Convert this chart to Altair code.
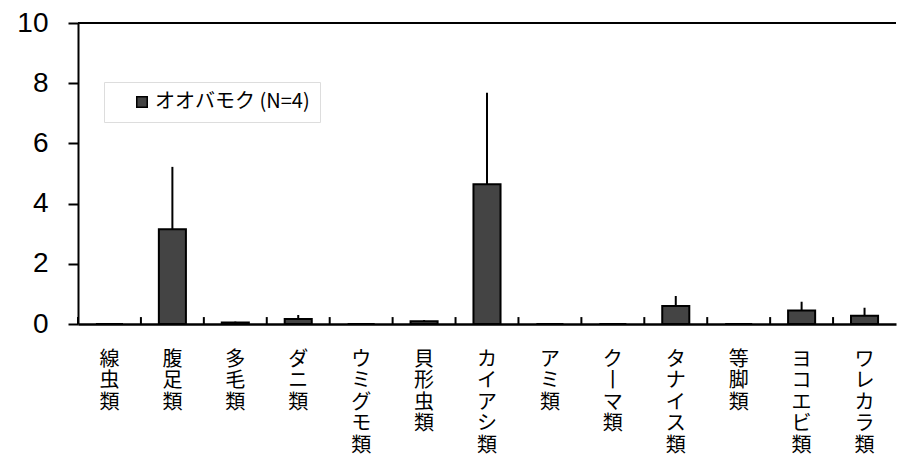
import altair as alt
import pandas as pd

categories = ["線虫類", "腹足類", "多毛類", "ダニ類", "ウミグモ類", "貝形虫類", "カイアシ類",
              "アミ類", "クーマ類", "タナイス類", "等脚類", "ヨコエビ類", "ワレカラ類"]
means = [0.0, 3.15, 0.05, 0.17, 0.0, 0.09, 4.64, 0.0, 0.0, 0.60, 0.0, 0.45, 0.27]
uppers = [0.0, 5.22, 0.08, 0.30, 0.0, 0.13, 7.68, 0.0, 0.0, 0.93, 0.0, 0.74, 0.54]
series_name = "オオバモク (N=4)"
y_ticks = [0, 2, 4, 6, 8, 10]

df = pd.DataFrame({"cat": categories, "mean": means, "upper": uppers, "series": series_name})

x_enc = alt.X("cat:N", sort=categories, title=None,
              scale=alt.Scale(paddingInner=0, paddingOuter=0),
              axis=alt.Axis(labelAngle=0, labelBaseline="top", labelAlign="center",
                            labelExpr="split(replace(datum.label, 'ー', '丨'), '')",
                            labelFont="Noto Sans CJK JP", labelFontSize=20,
                            labelLineHeight=21.5, labelColor="black",
                            ticks=False, tickSize=0, labelPadding=25,
                            domainColor="black", domainWidth=2.5))
y_scale = alt.Scale(domain=[0, 10], nice=False)

bars = alt.Chart(df).mark_bar(width=alt.RelativeBandSize(0.43), stroke="black",
                              strokeWidth=2).encode(
    x=x_enc,
    y=alt.Y("mean:Q", scale=y_scale, title=None,
            axis=alt.Axis(values=y_ticks, grid=False, labelFont="Liberation Sans",
                          labelFontSize=28, labelColor="black", tickSize=10,
                          tickWidth=2, tickColor="black", domainColor="black",
                          domainWidth=2, labelPadding=20, minExtent=70)),
    color=alt.Color("series:N",
                    scale=alt.Scale(domain=[series_name], range=["#444444"]),
                    legend=alt.Legend(orient="none", legendX=26, legendY=59, title=None,
                                      symbolType="square", symbolSize=110,
                                      symbolStrokeColor="black", symbolStrokeWidth=1.5,
                                      labelFont="Noto Sans CJK JP", labelFontSize=20,
                                      labelColor="black", strokeColor="#dddddd",
                                      fillColor="white", padding=10, symbolOffset=18,
                                      labelOffset=3)),
)

errs = alt.Chart(df).mark_rule(color="black", strokeWidth=2).encode(
    x=alt.X("cat:N", sort=categories),
    y=alt.Y("mean:Q", scale=y_scale),
    y2="upper:Q",
)

ticks = alt.Chart(df).mark_rule(color="black", strokeWidth=2).encode(
    x=alt.X("cat:N", sort=categories, bandPosition=0),
    y=alt.datum(0),
    y2=alt.datum(0.23),
)

top_line = alt.Chart(df).mark_rule(color="black", strokeWidth=2).encode(
    y=alt.datum(10),
)

chart = alt.layer(ticks, bars, errs, top_line).properties(
    width=818, height=301,
    padding={"top": 1, "left": 0, "right": 0, "bottom": 6},
).configure_view(stroke=None)

chart.save("out.html", embed_options={"renderer": "svg", "actions": False})
